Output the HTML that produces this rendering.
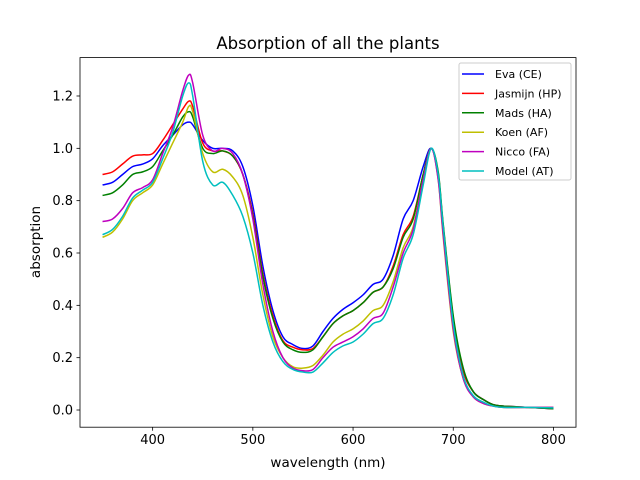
<!DOCTYPE html>
<html><head><meta charset="utf-8"><style>
body{margin:0;background:#fff;}
svg{display:block;font-family:"DejaVu Sans","Liberation Sans",sans-serif;}
</style></head><body>
<svg id="chart" width="640" height="480" viewBox="0 0 640 480">
<rect width="640" height="480" fill="#fff"/>
<text x="328" y="49" font-size="16.5" text-anchor="middle">Absorption of all the plants</text>
<text x="328" y="467" font-size="13.5" text-anchor="middle">wavelength (nm)</text>
<text x="40" y="242" font-size="13.5" text-anchor="middle" transform="rotate(-90 40 242)">absorption</text>
<g id="plot"></g>
<g id="axes"></g>
<g id="legend"></g>
</svg>
<script>
const wavelengths=[350,360,370,380,390,400,410,420,430,436,440,450,460,470,480,490,500,510,520,530,540,550,560,570,580,590,600,610,620,630,640,650,660,670,678,685,690,700,710,720,730,740,750,775,800];
const seriesNames=["Eva (CE)","Jasmijn (HP)","Mads (HA)","Koen (AF)","Nicco (FA)","Model (AT)"];
const seriesColors=["#0000ff","#ff0000","#008000","#bfbf00","#bf00bf","#00bfbf"];
const eva=[0.86,0.87,0.9,0.93,0.94,0.96,1.01,1.05,1.09,1.10,1.09,1.03,1.0,1.0,0.99,0.93,0.78,0.55,0.38,0.28,0.25,0.235,0.245,0.3,0.35,0.385,0.41,0.44,0.48,0.5,0.59,0.73,0.8,0.93,1.0,0.9,0.7,0.35,0.15,0.07,0.04,0.02,0.015,0.01,0.005];
const jasmijn=[0.9,0.91,0.94,0.97,0.975,0.98,1.03,1.09,1.15,1.18,1.16,1.02,0.99,0.99,0.97,0.9,0.75,0.52,0.36,0.265,0.24,0.23,0.235,0.28,0.33,0.36,0.38,0.41,0.45,0.47,0.55,0.67,0.74,0.9,1.0,0.9,0.7,0.35,0.15,0.07,0.04,0.02,0.015,0.01,0.005];
const mads=[0.82,0.83,0.86,0.9,0.91,0.93,0.99,1.05,1.12,1.14,1.12,1.0,0.98,0.99,0.97,0.9,0.74,0.51,0.35,0.26,0.23,0.22,0.23,0.28,0.33,0.36,0.38,0.41,0.45,0.47,0.54,0.66,0.73,0.9,1.0,0.91,0.71,0.36,0.16,0.07,0.04,0.02,0.015,0.01,0.005];
const koen=[0.66,0.68,0.73,0.8,0.83,0.86,0.94,1.02,1.1,1.16,1.14,0.98,0.91,0.92,0.89,0.82,0.66,0.44,0.28,0.2,0.165,0.16,0.17,0.21,0.26,0.29,0.31,0.34,0.38,0.4,0.49,0.62,0.7,0.88,1.0,0.88,0.66,0.3,0.12,0.05,0.025,0.015,0.01,0.01,0.01];
const nicco=[0.72,0.73,0.77,0.83,0.85,0.88,0.98,1.08,1.22,1.28,1.25,1.05,0.99,1.0,0.98,0.9,0.73,0.48,0.3,0.2,0.16,0.15,0.155,0.2,0.24,0.26,0.28,0.31,0.35,0.37,0.47,0.6,0.69,0.88,1.0,0.88,0.67,0.31,0.12,0.05,0.025,0.015,0.01,0.01,0.01];
const model=[0.67,0.69,0.74,0.81,0.84,0.87,0.96,1.06,1.2,1.25,1.2,0.95,0.86,0.87,0.82,0.74,0.6,0.4,0.26,0.185,0.155,0.145,0.145,0.18,0.22,0.245,0.26,0.29,0.33,0.35,0.44,0.58,0.67,0.86,1.0,0.9,0.7,0.33,0.13,0.055,0.03,0.015,0.01,0.01,0.008];
const allSeries=[eva,jasmijn,mads,koen,nicco,model];
const xTicks=[400,500,600,700,800];
const yTicks=[0.0,0.2,0.4,0.6,0.8,1.0,1.2];

const L=80,R=576,T=57.6,B=427.2;
const xMin=327.5,xMax=822.5,yMin=-0.0657,yMax=1.3467;
const sx=v=>L+(v-xMin)/(xMax-xMin)*(R-L);
const sy=v=>B-(v-yMin)/(yMax-yMin)*(B-T);
const NS="http://www.w3.org/2000/svg";
function mk(tag,attrs,parent){const e=document.createElementNS(NS,tag);for(const k in attrs)e.setAttribute(k,attrs[k]);parent.appendChild(e);return e;}
const plot=document.getElementById('plot'),axes=document.getElementById('axes'),legend=document.getElementById('legend');

allSeries.forEach((s,i)=>{
  const pts=s.map((v,j)=>[sx(wavelengths[j]),sy(v)]);
  let d=`M${pts[0][0]},${pts[0][1]}`;
  for(let j=0;j<pts.length-1;j++){
    const p0=pts[Math.max(j-1,0)],p1=pts[j],p2=pts[j+1],p3=pts[Math.min(j+2,pts.length-1)];
    const c1=[p1[0]+(p2[0]-p0[0])/6,p1[1]+(p2[1]-p0[1])/6];
    const c2=[p2[0]-(p3[0]-p1[0])/6,p2[1]-(p3[1]-p1[1])/6];
    d+=`C${c1[0]},${c1[1]} ${c2[0]},${c2[1]} ${p2[0]},${p2[1]}`;
  }
  const p=mk('path',{d:d,fill:'none',stroke:seriesColors[i],'stroke-width':1.5,'stroke-linejoin':'round'},plot);
  
  
});

const frame=mk('rect',{x:L,y:T,width:R-L,height:B-T,fill:'none',stroke:'#000','stroke-width':0.8},axes);


xTicks.forEach(t=>{
  const x=sx(t);
  mk('line',{x1:x,x2:x,y1:B,y2:B+3.5,stroke:'#000','stroke-width':0.8},axes);
  const tx=mk('text',{x:x,y:B+17,'font-size':13,'text-anchor':'middle'},axes);
  tx.textContent=t;
  
  
});
yTicks.forEach(t=>{
  const y=sy(t);
  mk('line',{x1:L-3.5,x2:L,y1:y,y2:y,stroke:'#000','stroke-width':0.8},axes);
  const tx=mk('text',{x:L-7,y:y+4.5,'font-size':13,'text-anchor':'end'},axes);
  tx.textContent=t.toFixed(1);
  
  
});

const lb=mk('rect',{x:459,y:63,width:112,height:117,rx:2,fill:'#fff',stroke:'#ccc','stroke-width':1},legend);


seriesNames.forEach((n,i)=>{
  const y=74+i*19.4;
  mk('line',{x1:462,x2:484,y1:y,y2:y,stroke:seriesColors[i],'stroke-width':1.5},legend);
  const t=mk('text',{x:495,y:y+4,'font-size':11},legend);
  t.textContent=n;
  
  
});
</script>
</body></html>
